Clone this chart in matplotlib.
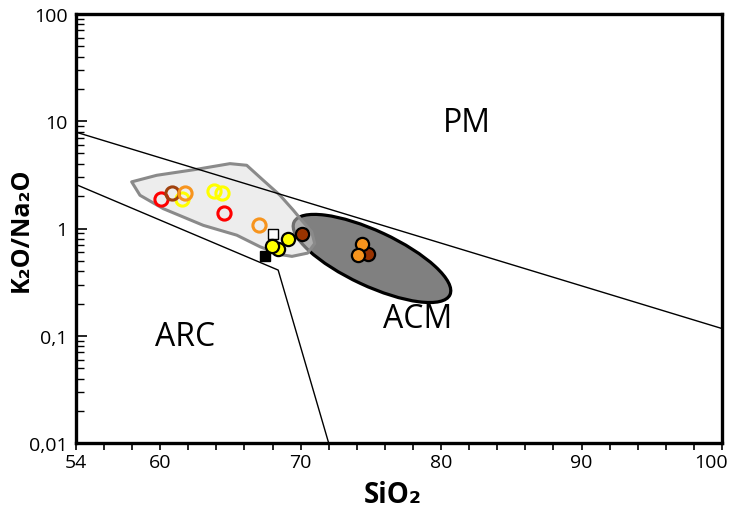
import numpy as np
import matplotlib
matplotlib.use('Agg')
import matplotlib.pyplot as plt
from matplotlib.patches import Ellipse, Polygon
from matplotlib.transforms import ScaledTranslation

plt.rcParams['font.family'] = ['Open Sans', 'DejaVu Sans']

# Limites de campos (SiO2, K2O/Na2O)
pm_line_x = [54, 100]
pm_line_y = [7.9, 0.117]
arc_line_x = [54, 68.4, 72.0]
arc_line_y = [2.57, 0.41, 0.01]

# Campo gris claro (muestras de referencia)
field_x = [57.97, 59.75, 62.60, 64.97, 66.16, 67.34, 68.53, 69.48, 70.08, 70.79,
           71.0, 70.5, 69.38, 68.53, 67.11, 65.45, 63.07, 60.22, 58.56]
field_y = [2.72, 3.13, 3.56, 4.02, 3.88, 2.81, 2.04, 1.48, 1.19, 0.93,
           0.725, 0.59, 0.55, 0.573, 0.676, 0.867, 1.07, 1.53, 2.04]

# Campo ACM (elipse): centro en datos
acm_center = (75.08, 0.526)

# Muestras: circulos abiertos
red_open_x = [60.05, 64.54]
red_open_y = [1.90, 1.40]
yellow_open_x = [61.57, 63.85, 64.38]
yellow_open_y = [1.90, 2.24, 2.15]
brown_open_x = [60.86]
brown_open_y = [2.15]
orange_open_x = [61.76, 67.06]
orange_open_y = [2.15, 1.07]

# Muestras: simbolos rellenos
black_sq_x = [67.46]
black_sq_y = [0.55]
white_sq_x = [68.05]
white_sq_y = [0.88]
yellow_x = [69.08, 68.41, 67.94]
yellow_y = [0.795, 0.64, 0.68]
brown_x = [70.12, 74.82]
brown_y = [0.88, 0.577]
orange_x = [74.39, 74.06]
orange_y = [0.714, 0.565]

fig = plt.figure(figsize=(7.3, 5.1), dpi=100)
ax = fig.add_axes([0.104, 0.129, 0.885, 0.842])
ax.set_yscale('log')
ax.set_xlim(54, 100)
ax.set_ylim(0.01, 100)

# Elipse ACM (definida en pulgadas de pantalla)
acm = Ellipse((0, 0), width=1.72, height=0.55, angle=-25,
              transform=fig.dpi_scale_trans + ScaledTranslation(acm_center[0], acm_center[1], ax.transData),
              facecolor='#808080', edgecolor='black', linewidth=2.3, zorder=2)
ax.add_patch(acm)

# Campo gris claro, semitransparente encima de la elipse
pts = np.column_stack([field_x, field_y])
ax.add_patch(Polygon(pts, closed=True, facecolor='#dcdcdc', edgecolor='none', alpha=0.5, zorder=3))
ax.add_patch(Polygon(pts, closed=True, facecolor='none', edgecolor='#8a8a8a',
                     linewidth=2.2, joinstyle='round', zorder=3))

# Lineas de limite
ax.plot(pm_line_x, pm_line_y, color='black', lw=1.0, zorder=4)
ax.plot(arc_line_x, arc_line_y, color='black', lw=1.0, zorder=4)

# Simbolos
ms = 9.5
ax.plot(red_open_x, red_open_y, 'o', ms=ms, mfc='none', mec='#ff0000', mew=2.2, zorder=5)
ax.plot(yellow_open_x, yellow_open_y, 'o', ms=ms, mfc='none', mec='#ffff00', mew=2.2, zorder=5)
ax.plot(brown_open_x, brown_open_y, 'o', ms=ms, mfc='none', mec='#a0410d', mew=2.2, zorder=5)
ax.plot(orange_open_x, orange_open_y, 'o', ms=ms, mfc='none', mec='#f7941d', mew=2.2, zorder=5)

ax.plot(black_sq_x, black_sq_y, 's', ms=7.5, mfc='black', mec='black', mew=1, zorder=6)
ax.plot(white_sq_x, white_sq_y, 's', ms=7.5, mfc='white', mec='black', mew=1, zorder=6)
ax.plot(yellow_x, yellow_y, 'o', ms=ms, mfc='#ffff00', mec='black', mew=1.6, zorder=6)
ax.plot(brown_x, brown_y, 'o', ms=ms, mfc='#993300', mec='black', mew=1.6, zorder=6)
ax.plot(orange_x, orange_y, 'o', ms=ms, mfc='#f7941d', mec='black', mew=1.6, zorder=6)

# Nombres de campos
ax.text(81.85, 9.7, 'PM', fontsize=23, ha='center', va='center')
ax.text(61.76, 0.099, 'ARC', fontsize=23, ha='center', va='center')
ax.text(78.36, 0.146, 'ACM', fontsize=23, ha='center', va='center')

# Ejes
for s in ax.spines.values():
    s.set_linewidth(2.4)

xt = np.arange(54, 101, 2)
ax.set_xticks(xt)
ax.set_xticklabels([str(v) if v in (54, 60, 70, 80, 90, 100) else '' for v in xt])
ax.tick_params(axis='x', direction='out', length=5, width=1.2, labelsize=14, pad=2)
# la etiqueta 100 no debe salirse del borde
lbl = ax.get_xticklabels()[-1]
lbl.set_ha('right')
lbl.set_transform(lbl.get_transform() + ScaledTranslation(0.06, 0, fig.dpi_scale_trans))

ax.set_yticks([0.01, 0.1, 1, 10, 100])
ax.set_yticklabels(['0,01', '0,1', '1', '10', '100'])
ax.tick_params(axis='y', which='major', direction='in', length=8, width=1.2, labelsize=14, pad=6)
ax.tick_params(axis='y', which='minor', direction='in', length=6, width=1.0)
ax.tick_params(axis='x', which='minor', bottom=False)

ax.set_xlabel('SiO₂', fontsize=20, fontweight='bold', va='center')
ax.xaxis.set_label_coords(0.49, -0.119)
ax.set_ylabel('K₂O/Na₂O', fontsize=18, fontweight='bold', va='center')
ax.yaxis.set_label_coords(-0.084, 0.5)

fig.savefig('out.png', dpi=100)
